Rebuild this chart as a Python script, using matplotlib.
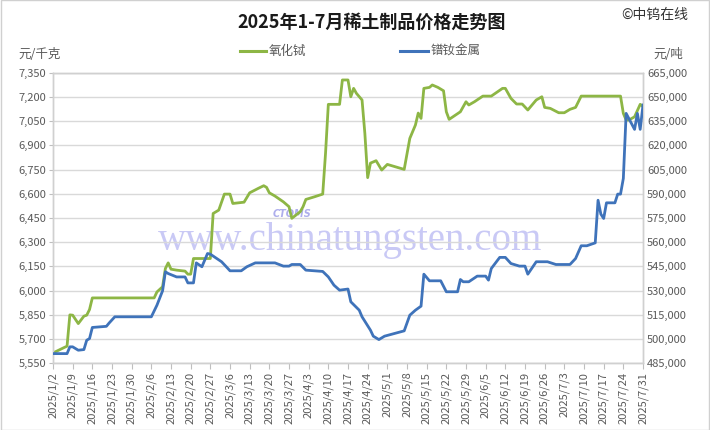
import pandas as pd
import matplotlib
matplotlib.use("Agg")
import matplotlib.pyplot as plt
import matplotlib.dates as mdates
from matplotlib.lines import Line2D
from matplotlib.patches import Rectangle
from matplotlib.ticker import FuncFormatter

plt.rcParams['font.family'] = ['Noto Sans CJK SC', 'DejaVu Sans']

# 氧化铽 (元/千克), left axis
tb_dates = ['01-02', '01-06', '01-07', '01-08', '01-09', '01-11', '01-13', '01-14', '01-15', '01-16',
            '02-07', '02-08', '02-10', '02-11', '02-12', '02-13', '02-15', '02-18', '02-19', '02-20', '02-21', '02-27', '02-28',
            '03-02', '03-04', '03-06', '03-07', '03-11', '03-13', '03-16', '03-18', '03-19', '03-20', '03-22', '03-25', '03-27', '03-28', '03-31',
            '04-01', '04-02', '04-05', '04-08', '04-09', '04-10', '04-14', '04-15', '04-17', '04-18', '04-19', '04-20', '04-22', '04-23', '04-24', '04-25', '04-27', '04-29',
            '05-01', '05-07', '05-09', '05-11', '05-12', '05-13', '05-14', '05-16', '05-17', '05-19', '05-21', '05-22', '05-23', '05-27', '05-29', '05-30',
            '06-01', '06-04', '06-07', '06-11', '06-12', '06-14', '06-16', '06-18', '06-20', '06-23', '06-25', '06-26', '06-28',
            '07-01', '07-03', '07-05', '07-07', '07-09', '07-23', '07-24', '07-25', '07-26', '07-28', '07-30', '07-31']
tb_values = [5614, 5648, 5656, 5850, 5848, 5796, 5842, 5848, 5883, 5955,
             5955, 5992, 6024, 6137, 6172, 6133, 6127, 6121, 6102, 6102, 6199, 6199, 6478,
             6499, 6598, 6598, 6540, 6548, 6606, 6633, 6650, 6640, 6606, 6586, 6550, 6520, 6448, 6489,
             6520, 6565, 6581, 6598, 6850, 7154, 7154, 7305, 7305, 7201, 7253, 7222, 7181, 6974, 6700, 6790, 6805, 6747,
             6782, 6751, 6943, 7026, 7100, 7067, 7253, 7259, 7274, 7259, 7238, 7108, 7061, 7108, 7170, 7150,
             7170, 7205, 7205, 7253, 7253, 7191, 7156, 7156, 7119, 7181, 7201, 7135, 7129,
             7102, 7102, 7123, 7135, 7205, 7205, 7098, 7057, 7057, 7077, 7154, 7140]

# 镨钕金属 (元/吨), right axis
prnd_dates = ['01-02', '01-07', '01-08', '01-09', '01-11', '01-13', '01-14', '01-15', '01-16', '01-21', '01-22', '01-24',
              '02-06', '02-08', '02-10', '02-11', '02-12', '02-15', '02-18', '02-19', '02-21', '02-22', '02-24', '02-26', '02-27',
              '03-03', '03-05', '03-06', '03-07', '03-10', '03-12', '03-15', '03-22', '03-25', '03-27', '03-28', '03-31',
              '04-02', '04-08', '04-10', '04-12', '04-14', '04-17', '04-18', '04-21', '04-22', '04-25', '04-26', '04-28', '04-30',
              '05-07', '05-09', '05-11', '05-13', '05-14', '05-16', '05-20', '05-22', '05-26', '05-27', '05-28', '05-30',
              '06-02', '06-05', '06-06', '06-07', '06-10', '06-12', '06-14', '06-17', '06-19', '06-20', '06-23', '06-27', '06-30',
              '07-05', '07-07', '07-09', '07-11', '07-14', '07-15', '07-16', '07-17', '07-18', '07-21', '07-22', '07-23', '07-24', '07-25', '07-28', '07-29', '07-30', '07-31']
prnd_values = [491000, 491000, 495200, 495200, 493100, 493500, 499300, 500300, 507200, 507900, 510000, 513800,
               513800, 521000, 529900, 541700, 540600, 538500, 538500, 534800, 534800, 547200, 544800, 553000, 552600,
               547900, 544200, 542300, 542300, 542300, 544800, 547200, 547200, 545200, 545200, 546200, 546200,
               542700, 541900, 538500, 533400, 530300, 531000, 523100, 517900, 513800, 505500, 501800, 499700, 501800,
               505100, 514800, 517900, 520400, 540200, 536100, 536100, 529300, 529300, 536900, 535500, 535500,
               539000, 539000, 536500, 543700, 550600, 550600, 546800, 545200, 545200, 540200, 547900, 547900, 546200,
               546200, 549900, 557800, 557800, 559600, 586000, 577400, 574700, 584400, 584400, 589800, 589800, 599500, 639800, 629900, 639800, 629900, 645000]

left_ticks = list(range(5550, 7351, 150))
right_ticks = list(range(485000, 665001, 15000))

title = '2025年1-7月稀土制品价格走势图'
series_names = ['氧化铽', '镨钕金属']
left_unit = '元/千克'
right_unit = '元/吨'

green = '#8DB645'
blue = '#3F73BA'
grey_text = '#595959'

tb_x = pd.to_datetime(['2025-' + d for d in tb_dates])
prnd_x = pd.to_datetime(['2025-' + d for d in prnd_dates])

fig = plt.figure(figsize=(7.1, 4.3), dpi=100)
ax = fig.add_axes([53 / 710, 1 - 363.3 / 430, 590 / 710, 290.6 / 430])
ax2 = ax.twinx()

# watermark
ax.text(0.503, 0.424, 'www.chinatungsten.com', transform=ax.transAxes, ha='center', va='center',
        fontsize=28, family='Liberation Serif', color='#b8b8f2', alpha=0.75, zorder=0)
ax.text(0.405, 0.515, 'CTOMS', transform=ax.transAxes, ha='center', va='center',
        fontsize=7, style='italic', fontweight='bold', family='DejaVu Sans', color='#9a9ae8', alpha=0.8, zorder=0)

ax.plot(tb_x, tb_values, color=green, lw=2.0, zorder=3)
ax2.plot(prnd_x, prnd_values, color=blue, lw=2.0, zorder=3)

start = pd.Timestamp('2025-01-02')
end = pd.Timestamp('2025-07-31')
ax.set_xlim(start, end)
ax.set_ylim(left_ticks[0], left_ticks[-1])
ax.set_yticks(left_ticks)
ax2.set_ylim(right_ticks[0], right_ticks[-1])
ax2.set_yticks(right_ticks)

ticks = pd.date_range(start, end, freq='7D')
ax.set_xticks(ticks)
ax.xaxis.set_major_formatter(FuncFormatter(lambda v, p: (lambda d: f'{d.year}/{d.month}/{d.day}')(mdates.num2date(v))))
ax.yaxis.set_major_formatter(FuncFormatter(lambda v, p: f'{v:,.0f}'))
ax2.yaxis.set_major_formatter(FuncFormatter(lambda v, p: f'{v:,.0f}'))

for lbl in ax.get_xticklabels():
    lbl.set_rotation(90)
ax.tick_params(axis='x', labelsize=8, colors='#bfbfbf', labelcolor=grey_text, length=4, width=0.8, pad=2)
ax.tick_params(axis='y', labelsize=8, colors='#bfbfbf', labelcolor=grey_text, length=3, width=0.8, pad=2)
ax2.tick_params(axis='y', labelsize=8, colors='#bfbfbf', labelcolor=grey_text, length=0, pad=3)

ax.grid(axis='y', color='#d9d9d9', lw=1.0)
ax.set_axisbelow(True)
for a in (ax, ax2):
    for s in a.spines.values():
        s.set_color('#d0d0d0')
        s.set_linewidth(1.0)

# titles and units
fig.text(372 / 710, 1 - 22 / 430, title, ha='center', va='center', fontsize=13, fontweight='bold', color='#1a1a1a')
fig.text(688 / 710, 1 - 15 / 430, '©中钨在线', ha='right', va='center', fontsize=10, color='#333333')
fig.text(18 / 710, 1 - 55 / 430, left_unit, ha='left', va='center', fontsize=9, color=grey_text)
fig.text(683 / 710, 1 - 55 / 430, right_unit, ha='right', va='center', fontsize=9, color=grey_text)

# legend
for (x0, x1, tx), name, col in zip([(240, 266, 269), (400, 428, 431)], series_names, [green, blue]):
    fig.add_artist(Line2D([x0 / 710, x1 / 710], [1 - 51 / 430] * 2, color=col, lw=2.2))
    fig.text(tx / 710, 1 - 51 / 430, name, ha='left', va='center', fontsize=9, color=grey_text)

fig.add_artist(Rectangle((0.001, 0.001), 0.998, 0.998, transform=fig.transFigure,
                         fill=False, edgecolor='#d0d0d0', lw=1))

fig.savefig('out.png', dpi=100)
